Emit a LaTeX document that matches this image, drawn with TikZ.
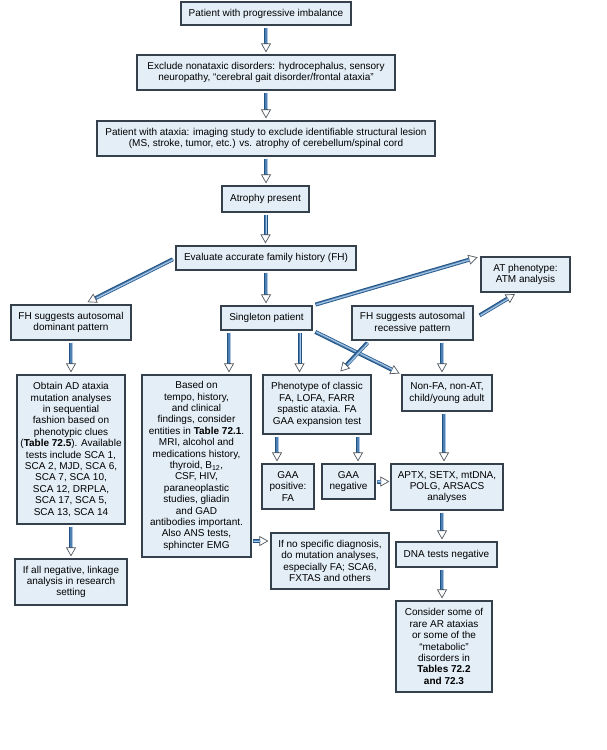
\documentclass[tikz,border=0pt]{standalone}
\usepackage{fontspec}
\setmainfont{Liberation Sans}
\usetikzlibrary{arrows.meta}
\definecolor{boxfill}{HTML}{E4EEF7}
\definecolor{boxline}{HTML}{34404C}
\definecolor{shaftdark}{HTML}{1F5283}
\definecolor{shaftmid}{HTML}{4F80B2}
\definecolor{shaftlight}{HTML}{A9C7E4}
\definecolor{headline}{HTML}{505860}
\newcommand\bx[6]{%
  \pgfmathsetmacro\bxw{#4-#2}\pgfmathsetmacro\bxh{#5-#3}%
  \node[box, minimum width=\bxw pt, minimum height=\bxh pt] (#1) at ({(#2+#4)/2},{(#3+#5)/2}) {#6};}
\begin{document}
\begin{tikzpicture}[x=1pt,y=-1pt,
  box/.style={draw=boxline, fill=boxfill, line width=1.2pt, inner sep=0pt, align=center,
    font=\fontsize{10}{11.4}\selectfont},
  arr/.style 2 args={draw=shaftdark, line width=4pt, shorten <=#1, shorten >=#2,
    -{Triangle[length=9pt,width=10pt,fill=white,color=headline,line width=0.7pt]},
    postaction={draw=shaftmid, line width=2.4pt, -, shorten <=#1, shorten >={#2+9pt}, transform canvas={xshift=0.6pt}},
    postaction={draw=shaftlight, line width=1pt, -, shorten <=#1, shorten >={#2+9pt}, transform canvas={xshift=1.1pt}}},
  a/.style={arr={2pt}{2pt}}]
\fill[white] (0,0) rectangle (606,750);
\useasboundingbox (0,0) rectangle (606,750);

\bx{b1}{181}{2}{351}{25}{Patient with progressive imbalance}
\bx{b2}{137}{55}{395}{90}{Exclude nonataxic disorders: hydrocephalus, sensory\\neuropathy, “cerebral gait disorder/frontal ataxia”}
\bx{b3}{97}{121}{435}{156}{Patient with ataxia: imaging study to exclude identifiable structural lesion\\(MS, stroke, tumor, etc.) vs. atrophy of cerebellum/spinal cord}
\bx{atro}{222}{186}{309}{212}{Atrophy present}
\bx{eval}{176}{246}{356}{270}{Evaluate accurate family history (FH)}
\bx{at}{481}{257}{570}{292}{AT phenotype:\\ATM analysis}
\bx{dom}{11}{305}{131}{340}{FH suggests autosomal\\dominant pattern}
\bx{single}{221}{306}{312}{330}{Singleton patient}
\bx{rec}{352}{306}{473}{340}{FH suggests autosomal\\recessive pattern}
\bx{obtain}{17}{375}{125}{524}{Obtain AD ataxia\\mutation analyses\\in sequential\\fashion based on\\phenotypic clues\\(\textbf{Table 72.5}). Available\\tests include SCA 1,\\SCA 2, MJD, SCA 6,\\SCA 7, SCA 10,\\SCA 12, DRPLA,\\SCA 17, SCA 5,\\SCA 13, SCA 14}
\bx{link}{15}{559}{127}{605}{If all negative, linkage\\analysis in research\\setting}
\bx{based}{142}{375}{251}{557}{Based on\\tempo, history,\\and clinical\\findings, consider\\entities in \textbf{Table 72.1}.\\MRI, alcohol and\\medications history,\\thyroid, B\textsubscript{12},\\CSF, HIV,\\paraneoplastic\\studies, gliadin\\and GAD\\antibodies important.\\Also ANS tests,\\sphincter EMG}
\bx{pheno}{263}{375}{371}{434}{Phenotype of classic\\FA, LOFA, FARR\\spastic ataxia. FA\\GAA expansion test}
\bx{nonfa}{402}{375}{492}{411}{Non-FA, non-AT,\\child/young adult}
\bx{gpos}{262}{464}{314}{509}{GAA\\positive:\\FA}
\bx{gneg}{322}{464}{375}{499}{GAA\\negative}
\bx{aptx}{391}{464}{503}{510}{APTX, SETX, mtDNA,\\POLG, ARSACS\\analyses}
\bx{ifno}{271}{533}{389}{589}{If no specific diagnosis,\\do mutation analyses,\\especially FA; SCA6,\\FXTAS and others}
\bx{dna}{396}{542}{497}{567}{DNA tests negative}
\bx{cons}{396}{601}{492}{692}{Consider some of\\rare AR ataxias\\or some of the\\“metabolic”\\disorders in\\\textbf{Tables 72.2}\\\textbf{and 72.3}}

% vertical trunk
\draw[a] (b1.south) -- (b2.north);
\draw[a] (b2.south) -- (b3.north);
\draw[a] (b3.south) -- (b3.south |- atro.north);
\draw[a] (atro.south) -- (atro.south |- eval.north);
\draw[a] (eval.south) -- (eval.south |- single.north);
% from evaluate
\draw[arr={3pt}{5pt}] (eval.west) -- ([xshift=12pt]dom.north);
% singleton
\draw[arr={3pt}{3pt}] (single.north east) -- (at.north west);
\draw[arr={3pt}{2pt}] (single.south east) -- (nonfa.north west);
\draw[a] ([xshift=-37.5pt]single.south) -- ([xshift=-37.5pt]single.south |- based.north);
\draw[a] ([xshift=33pt]single.south) -- ([xshift=33pt]single.south |- pheno.north);
% recessive
\draw[arr={7pt}{3pt}] ([yshift=4pt]rec.east) -- ([xshift=-8pt]at.south);
\draw[arr={3pt}{4pt}] ([xshift=18pt]rec.south west) -- ([xshift=-34pt]pheno.north east);
\draw[a] ([xshift=-5pt]nonfa.north |- rec.south) -- ([xshift=-5pt]nonfa.north);
% dominant branch
\draw[a] (dom.south) -- (obtain.north);
\draw[a] (obtain.south) -- (link.north);
% based
\draw[arr={1pt}{2pt}] ([yshift=20pt]ifno.west -| based.east) -- ([yshift=20pt]ifno.west);
% phenotype
\draw[a] ([xshift=-40pt]pheno.south) -- ([xshift=-40pt]pheno.south |- gpos.north);
\draw[a] ([xshift=41pt]pheno.south) -- ([xshift=41pt]pheno.south |- gneg.north);
\draw[arr={1pt}{1pt}] (gneg.east) -- (gneg.east -| aptx.west);
% AR chain
\draw[a] ([xshift=-3pt]nonfa.south) -- ([xshift=-3pt]nonfa.south |- aptx.north);
\draw[a] ([xshift=-5pt]aptx.south) -- ([xshift=-5pt]aptx.south |- dna.north);
\draw[a] ([xshift=-4.5pt]dna.south) -- ([xshift=-4.5pt]dna.south |- cons.north);
\end{tikzpicture}
\end{document}
